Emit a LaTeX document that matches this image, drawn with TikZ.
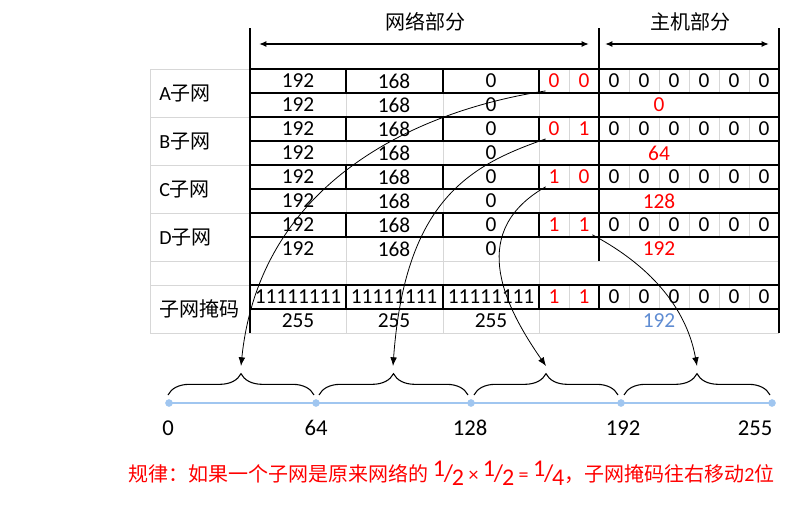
\documentclass[tikz,border=0pt]{standalone}
\usepackage{fontspec}
\setmainfont{Carlito}
\newfontfamily\cjk{Noto Sans CJK SC}
\usetikzlibrary{arrows.meta,decorations.pathreplacing,positioning}
\definecolor{bitred}{RGB}{255,0,0}
\definecolor{maskblue}{RGB}{95,140,210}
\definecolor{axisblue}{RGB}{160,198,240}
\definecolor{gridgray}{RGB}{215,215,215}
\newcommand{\slfrac}[2]{{\fontsize{18}{20}\selectfont\raisebox{0.4ex}{#1}\kern-0.05em/\kern-0.05em\raisebox{-0.35ex}{#2}}}

\begin{document}
\begin{tikzpicture}[x=0.75pt,y=-0.75pt,font=\fontsize{15}{18}\selectfont,
  rule/.style={line width=1.5pt},
  gridline/.style={gridgray,line width=0.6pt},
  num/.style={inner sep=2pt,font=\fontsize{16}{18}\selectfont},
  bit/.style={num,text=bitred},
  rowlabel/.style={anchor=west,inner sep=0pt},
  span/.style={<->,line width=1.2pt,>={Latex[length=5.5pt,width=4.5pt]}},
  jump/.style={->,line width=0.6pt,>={Latex[length=6.5pt,width=5pt]}},
  seg/.style={decorate,decoration={brace,amplitude=16pt},line width=0.8pt},
  dot/.style={circle,fill=axisblue,inner sep=0pt,minimum size=5.5pt},
  tick/.style={font=\fontsize{17}{19}\selectfont}]
\useasboundingbox (0,0) rectangle (800,514);

% header
\node (netHead) at (425,22) {\cjk 网络部分};
\node (hostHead) at (690,22) {\cjk 主机部分};
\coordinate (netL) at (259,44);
\coordinate (netR) at (589,44);
\coordinate (hostL) at (605,44);
\coordinate (hostR) at (769,44);
\draw[span] (netL) -- (netR);
\draw[span] (hostL) -- (hostR);

% light grid
\draw[gridline] (150,69) -- (150,333);
\foreach \y in {69,117,165,213,261,285,333}
  \draw[gridline] (150,\y) -- (250,\y);
\draw[gridline] (250,261) -- (779,261) (250,333) -- (779,333);
\foreach \y in {69,117,165,213,285}
  \foreach \x in {569,629,659,689,719,749}
    \draw[gridline] (\x,\y) -- ++(0,24);
\foreach \y in {93,141,189,237,261,309}
  \foreach \x in {346,443,539}
    \draw[gridline] (\x,\y) -- ++(0,24);

% table rules
\foreach \y in {69,93,...,237}
  \draw[rule] (250,\y) -- (779,\y);
\draw[rule] (250,285) -- (779,285) (250,309) -- (779,309);
\draw[rule] (250,28) -- (250,333) (779,28) -- (779,333);
\draw[rule] (599,28) -- (599,261) (599,285) -- (599,309);
\foreach \y in {69,117,165,213,285}
  \draw[rule] (346,\y) -- ++(0,24) (443,\y) -- ++(0,24) (539,\y) -- ++(0,24);

% subnets
\foreach \sub/\bo/\bt/\val [count=\i from 0] in {A/0/0/0,B/0/1/64,C/1/0/128,D/1/1/192}{
  \pgfmathsetmacro\ya{81+48*\i}
  \pgfmathsetmacro\yb{105+48*\i}
  \node[rowlabel] (lbl\sub) at (159,\ya+12) {\sub{\cjk 子网}};
  \node[num] (net\sub1) at (298,\ya) {192};
  \node[num] (net\sub2) at (394,\ya) {168};
  \node[num] (net\sub3) at (491,\ya) {0};
  \node[bit] (bit\sub1) at (554,\ya) {\bo};
  \node[bit] (bit\sub2) at (584,\ya) {\bt};
  \foreach \k in {0,...,5}
    \node[num] (host\sub\k) at (614+30*\k,\ya) {0};
  \node[num] (low\sub1) at (298,\yb) {192};
  \node[num] (low\sub2) at (394,\yb) {168};
  \node[num] (low\sub3) at (491,\yb) {0};
  \node[bit] (val\sub) at (659,\yb) {\val};
}

% mask
\node[rowlabel] (lblMask) at (159,309) {\cjk 子网掩码};
\foreach \x [count=\j] in {298,394,491}{
  \node[num] (mask\j) at (\x,297) {11111111};
  \node[num] (dec\j) at (\x,321) {255};
}
\node[bit] (bitM1) at (554,297) {1};
\node[bit] (bitM2) at (584,297) {1};
\foreach \k in {0,...,5}
  \node[num] (hostM\k) at (614+30*\k,297) {0};
\node[num,text=maskblue] (valM) at (659,321) {192};

% number line
\foreach \v/\x in {0/169,64/316,128/471,192/621,255/772}
  \node[dot] (p\v) at (\x,403) {};
\draw[axisblue,line width=2.2pt] (p0.center) -- (p255.center);
\foreach \v/\x in {0/169,64/316,128/471,192/621,255/772}
  \node[dot] at (\x,403) {};
\node[tick] (n0) at (168,428) {0};
\node[tick] (n64) at (316,428) {64};
\node[tick] (n128) at (470,428) {128};
\node[tick] (n192) at (623,428) {192};
\node[tick,anchor=east] (n255) at (777,428) {255};

% braces
\draw[seg] (168,395) -- (314,395);
\draw[seg] (319,395) -- (468,395);
\draw[seg] (474,395) -- (618,395);
\draw[seg] (624,395) -- (770,395);
\coordinate (tipA) at (241,366);
\coordinate (tipB) at (393,366);
\coordinate (tipC) at (546,366);
\coordinate (tipD) at (697,366);

% subnet ranges
\draw[jump] (bitA1.south west) .. controls (420,110) and (260,180) .. (tipA);
\draw[jump] (bitB1.south west) .. controls (470,165) and (405,200) .. (tipB);
\draw[jump] (bitC1.south west) .. controls (470,230) and (500,300) .. (tipC);
\draw[jump] (bitD2.south east) .. controls (640,260) and (685,300) .. (tipD);

% rule text
\node[anchor=west,text=bitred,inner sep=0pt] (note) at (128,473)
  {{\cjk 规律：如果一个子网是原来网络的} \slfrac12 × \slfrac12 = \slfrac14{\cjk ，子网掩码往右移动}2{\cjk 位}};
\end{tikzpicture}
\end{document}
